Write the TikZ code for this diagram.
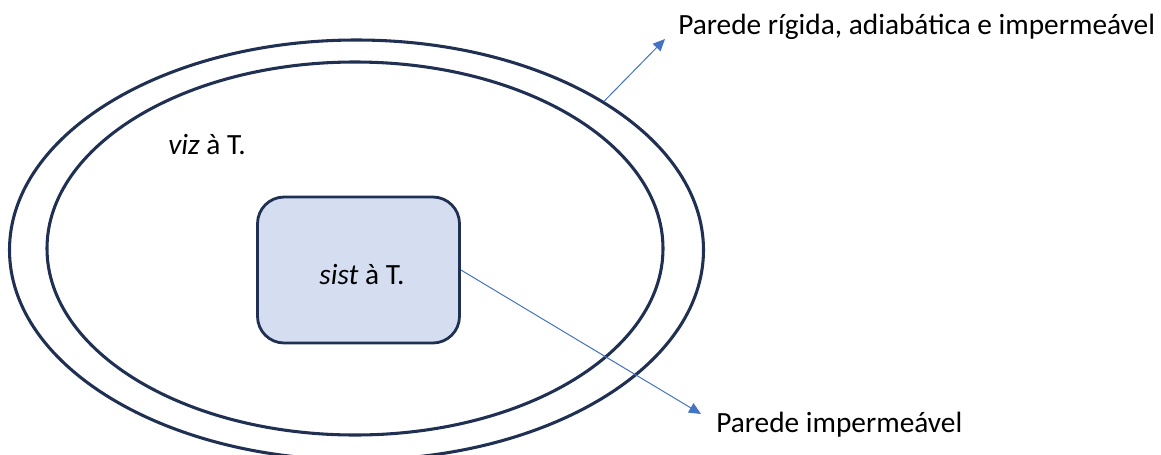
\documentclass[tikz,border=0pt]{standalone}
\usepackage{fontspec}
\setmainfont{Carlito}
\usetikzlibrary{shapes.geometric,arrows.meta}
\definecolor{navy}{HTML}{1F3052}
\definecolor{boxfill}{HTML}{D5DEF0}
\definecolor{arrowblue}{HTML}{4472C4}
\tikzset{
  wall/.style={draw=navy, line width=2.3pt, ellipse, inner sep=0pt},
  sysbox/.style={draw=navy, line width=2.1pt, fill=boxfill, rounded corners=20pt, inner sep=0pt},
  pointer/.style={draw=arrowblue, line width=0.75pt, -{Triangle[length=9pt,width=8pt]}},
  lbl/.style={font=\fontsize{22}{26}\selectfont, inner sep=0pt}
}
\begin{document}
\begin{tikzpicture}[x=0.75pt,y=-0.75pt]
\useasboundingbox (0,0) rectangle (1161,454);
\begin{scope}
\clip (0,0) rectangle (1161,454);
\node[wall, minimum width=694*0.75pt, minimum height=420*0.75pt] (outer) at (356.5,250) {};
\end{scope}
\node[wall, minimum width=616*0.75pt, minimum height=373*0.75pt] (inner) at (355,248.5) {};
\node[sysbox, minimum width=202*0.75pt, minimum height=146*0.75pt] (box) at (358.5,270) {};
\node[lbl] (sist) at (362,275) {\textit{sist} à T.};
\node[lbl, anchor=west] (viz) at (168,145) {\textit{viz} à T.};
\node[lbl, anchor=west] (l1) at (678,27) {Parede rígida, adiabática e impermeável};
\node[lbl, anchor=west] (l2) at (716,425) {Parede impermeável};
\coordinate (t1) at (665,39);
\coordinate (t2) at (701,414);
\draw[pointer] (outer.31.3) -- (t1);
\draw[pointer] (box.east) -- (t2);
\end{tikzpicture}
\end{document}
